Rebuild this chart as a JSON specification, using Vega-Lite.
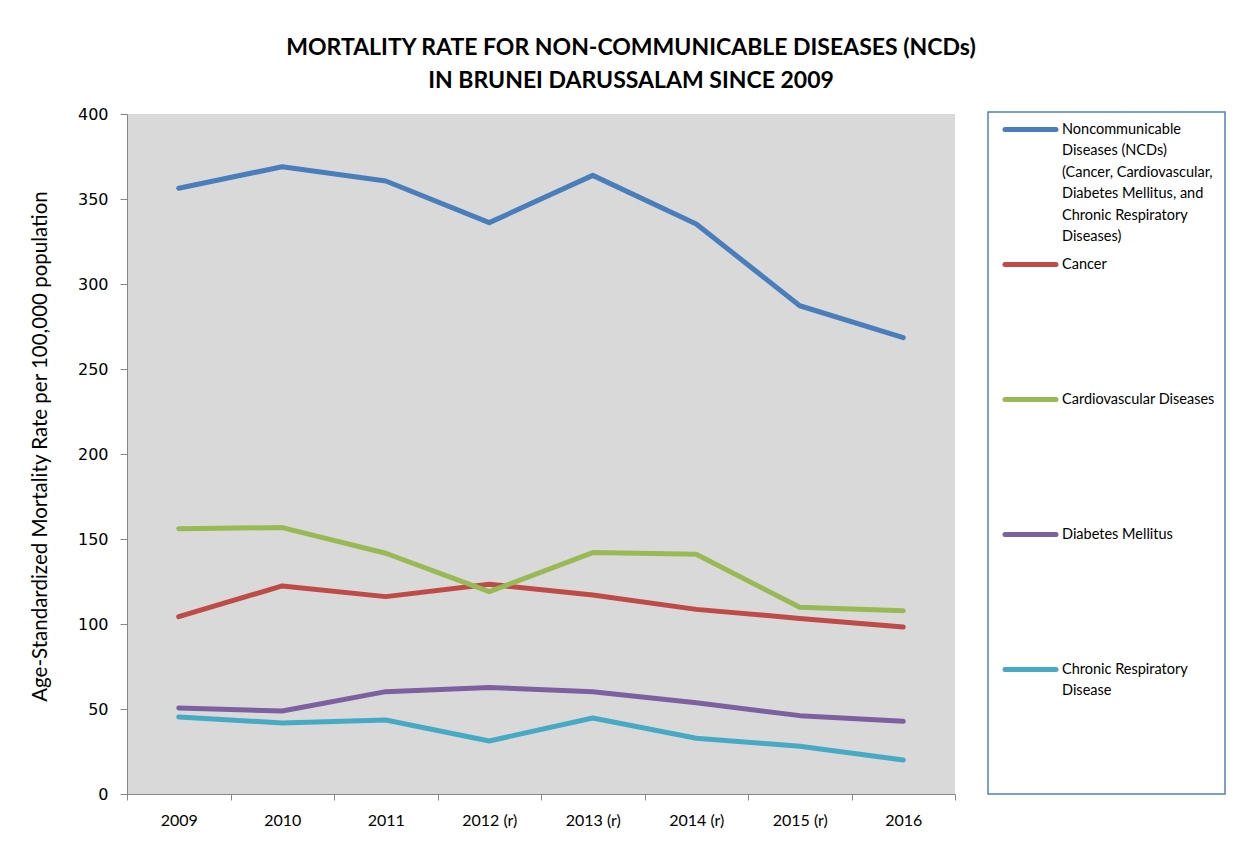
{
  "$schema": "https://vega.github.io/schema/vega-lite/v6.json",
  "width": 828,
  "height": 680,
  "autosize": {"type": "none"},
  "padding": {"left": 127, "top": 114, "right": 284, "bottom": 48},
  "background": "white",
  "title": {
    "text": ["MORTALITY RATE FOR NON-COMMUNICABLE DISEASES (NCDs)", "IN BRUNEI DARUSSALAM SINCE 2009"],
    "font": "Lato",
    "fontSize": 23,
    "fontWeight": "bold",
    "color": "#000000",
    "anchor": "middle",
    "dx": 90,
    "lineHeight": 33,
    "offset": 13
  },
  "data": {
    "values": [
      {"year": "2009", "series": "NCD", "value": 356.3},
      {"year": "2010", "series": "NCD", "value": 369.0},
      {"year": "2011", "series": "NCD", "value": 360.6},
      {"year": "2012 (r)", "series": "NCD", "value": 336.1},
      {"year": "2013 (r)", "series": "NCD", "value": 363.9},
      {"year": "2014 (r)", "series": "NCD", "value": 335.3},
      {"year": "2015 (r)", "series": "NCD", "value": 287.2},
      {"year": "2016", "series": "NCD", "value": 268.4},
      {"year": "2009", "series": "Cancer", "value": 104.3},
      {"year": "2010", "series": "Cancer", "value": 122.4},
      {"year": "2011", "series": "Cancer", "value": 116.1},
      {"year": "2012 (r)", "series": "Cancer", "value": 123.4},
      {"year": "2013 (r)", "series": "Cancer", "value": 117.1},
      {"year": "2014 (r)", "series": "Cancer", "value": 108.6},
      {"year": "2015 (r)", "series": "Cancer", "value": 103.3},
      {"year": "2016", "series": "Cancer", "value": 98.2},
      {"year": "2009", "series": "Cardiovascular Diseases", "value": 156.1},
      {"year": "2010", "series": "Cardiovascular Diseases", "value": 156.7},
      {"year": "2011", "series": "Cardiovascular Diseases", "value": 141.6},
      {"year": "2012 (r)", "series": "Cardiovascular Diseases", "value": 119.0},
      {"year": "2013 (r)", "series": "Cardiovascular Diseases", "value": 142.0},
      {"year": "2014 (r)", "series": "Cardiovascular Diseases", "value": 141.0},
      {"year": "2015 (r)", "series": "Cardiovascular Diseases", "value": 109.8},
      {"year": "2016", "series": "Cardiovascular Diseases", "value": 107.8},
      {"year": "2009", "series": "Diabetes Mellitus", "value": 50.6},
      {"year": "2010", "series": "Diabetes Mellitus", "value": 48.8},
      {"year": "2011", "series": "Diabetes Mellitus", "value": 60.2},
      {"year": "2012 (r)", "series": "Diabetes Mellitus", "value": 62.7},
      {"year": "2013 (r)", "series": "Diabetes Mellitus", "value": 60.2},
      {"year": "2014 (r)", "series": "Diabetes Mellitus", "value": 53.7},
      {"year": "2015 (r)", "series": "Diabetes Mellitus", "value": 46.1},
      {"year": "2016", "series": "Diabetes Mellitus", "value": 42.8},
      {"year": "2009", "series": "Chronic Respiratory Disease", "value": 45.3},
      {"year": "2010", "series": "Chronic Respiratory Disease", "value": 41.8},
      {"year": "2011", "series": "Chronic Respiratory Disease", "value": 43.5},
      {"year": "2012 (r)", "series": "Chronic Respiratory Disease", "value": 31.2},
      {"year": "2013 (r)", "series": "Chronic Respiratory Disease", "value": 44.7},
      {"year": "2014 (r)", "series": "Chronic Respiratory Disease", "value": 32.8},
      {"year": "2015 (r)", "series": "Chronic Respiratory Disease", "value": 28.1},
      {"year": "2016", "series": "Chronic Respiratory Disease", "value": 20.0}
    ]
  },
  "mark": {"type": "line", "strokeWidth": 5, "strokeCap": "round", "strokeJoin": "round"},
  "encoding": {
    "x": {
      "field": "year",
      "type": "ordinal",
      "sort": null,
      "bandPosition": 0.5,
      "scale": {"type": "band", "paddingInner": 0, "paddingOuter": 0},
      "axis": {
        "title": null,
        "labelAngle": 0,
        "labelFont": "Lato",
        "labelFontSize": 16,
        "labelColor": "#000000",
        "labelPadding": 12,
        "tickBand": "extent",
        "tickSize": 6,
        "tickColor": "#868686",
        "domainColor": "#868686",
        "domainWidth": 1,
        "grid": false
      }
    },
    "y": {
      "field": "value",
      "type": "quantitative",
      "scale": {"domain": [0, 400], "nice": false},
      "axis": {
        "title": "Age-Standardized Mortality Rate per 100,000 population",
        "titleFont": "Lato",
        "titleFontSize": 20.5,
        "titleFontWeight": "normal",
        "titleColor": "#000000",
        "titleX": -87,
        "titleY": 332,
        "titleAngle": -90,
        "titleAlign": "center",
        "titleBaseline": "middle",
        "values": [0, 50, 100, 150, 200, 250, 300, 350, 400],
        "labelFont": "DejaVu Sans",
        "labelFontSize": 16,
        "labelColor": "#000000",
        "labelPadding": 12,
        "tickSize": 7,
        "tickColor": "#868686",
        "domainColor": "#868686",
        "grid": false
      }
    },
    "color": {
      "field": "series",
      "type": "nominal",
      "scale": {
        "domain": ["NCD", "Cancer", "Cardiovascular Diseases", "Diabetes Mellitus", "Chronic Respiratory Disease"],
        "range": ["#4A7EBB", "#BE4B48", "#98B954", "#7D60A0", "#46AAC5"]
      },
      "legend": {
        "title": null,
        "orient": "none",
        "legendX": 861,
        "legendY": -2,
        "padding": 10,
        "strokeColor": "#4F81BD",
        "fillColor": "white",
        "symbolType": "M-5.1,0H5.1",
        "symbolSize": 100,
        "symbolStrokeWidth": 5,
        "symbolOffset": 25,
        "labelFont": "Lato",
        "labelFontSize": 14.5,
        "labelColor": "#000000",
        "labelOffset": 24,
        "labelLimit": 0,
        "labelBaseline": "middle",
        "rowPadding": 10,
        "labelExpr": "datum.label == 'NCD' ? ['Noncommunicable', 'Diseases (NCDs)', '(Cancer, Cardiovascular,', 'Diabetes Mellitus, and', 'Chronic Respiratory', 'Diseases)'] : datum.label == 'Chronic Respiratory Disease' ? ['Chronic Respiratory', 'Disease', '', '', '', ''] : [datum.label, '', '', '', '', '']",
        "encode": {
          "legend": {"update": {"strokeWidth": {"value": 1.5}}},
          "labels": {"update": {"lineHeight": {"value": 21.5}}},
          "symbols": {"update": {"strokeCap": {"value": "round"}, "fillOpacity": {"value": 0}}}
        }
      }
    }
  },
  "config": {
    "view": {"fill": "#D9D9D9", "stroke": null}
  }
}
